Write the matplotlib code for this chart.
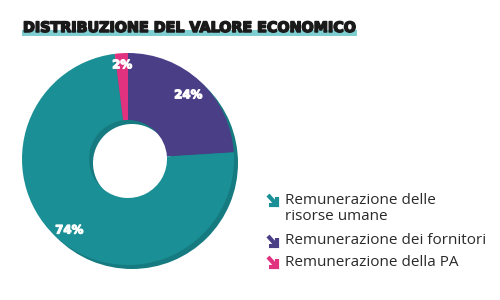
import matplotlib.pyplot as plt
import matplotlib.patheffects as pe
from matplotlib.patches import Rectangle
import numpy as np

# ---- Data ----
labels = ["Remunerazione dei fornitori", "Remunerazione delle\nrisorse umane", "Remunerazione della PA"]
values = [24, 74, 2]
colors = ["#4a3f87", "#1a8f95", "#e0327e"]
legend_order = [1, 0, 2]
label_radius = [0.83, 0.87, 0.89]

title = "DISTRIBUZIONE DEL VALORE ECONOMICO"

# ---- Figure ----
fig = plt.figure(figsize=(5, 3), dpi=100)
ax = fig.add_axes([0, 0, 1, 1])

cx, cy, R, r_in = 128, 141, 106, 39

# shadow ring
ax.pie([1], colors=["#157b80"], radius=R, center=(cx + 4, cy - 4),
       startangle=90, wedgeprops=dict(width=R - r_in, linewidth=0))
wedges, _ = ax.pie(values, colors=colors, radius=R, center=(cx, cy),
                   startangle=90, counterclock=False,
                   wedgeprops=dict(width=R - r_in, linewidth=0))

for w, v, f in zip(wedges, values, label_radius):
    ang = np.deg2rad((w.theta1 + w.theta2) / 2)
    ax.text(cx + R * f * np.cos(ang), cy + R * f * np.sin(ang), f"{v}%",
            color="white", fontsize=8.5, fontweight="heavy",
            ha="center", va="center",
            path_effects=[pe.withStroke(linewidth=0.8, foreground="white")])

ax.set_xlim(0, 500)
ax.set_ylim(0, 300)
ax.set_aspect("equal")
ax.axis("off")

# title with highlight
ax.add_patch(Rectangle((22, 264.5), 335, 5.5, color="#7ecdd0", linewidth=0))
ax.text(23, 272, title, fontsize=10.3, fontweight="heavy", color="#1a1a1a",
        ha="left", va="center", fontfamily="DejaVu Sans",
        path_effects=[pe.withStroke(linewidth=1.1, foreground="#1a1a1a")])

# legend
ypos = [300 - 200, 300 - 241, 300 - 262]
for i, y in zip(legend_order, ypos):
    x0, x1 = 268, 277
    ax.plot([x0, x1 - 1], [y + 5, y - 4], color=colors[i], lw=3,
            solid_capstyle="butt")
    ax.plot([x1 - 8, x1, x1], [y - 4.5, y - 4.5, y + 3.5], color=colors[i],
            lw=3, solid_joinstyle="miter", solid_capstyle="butt")
    ax.text(285, y + 7 if "\n" in labels[i] else y, labels[i],
            color="#2a2a2a", fontsize=11, ha="left",
            va="top" if "\n" in labels[i] else "center",
            fontfamily="Open Sans", linespacing=1.1)

fig.savefig("out.png", dpi=100)
